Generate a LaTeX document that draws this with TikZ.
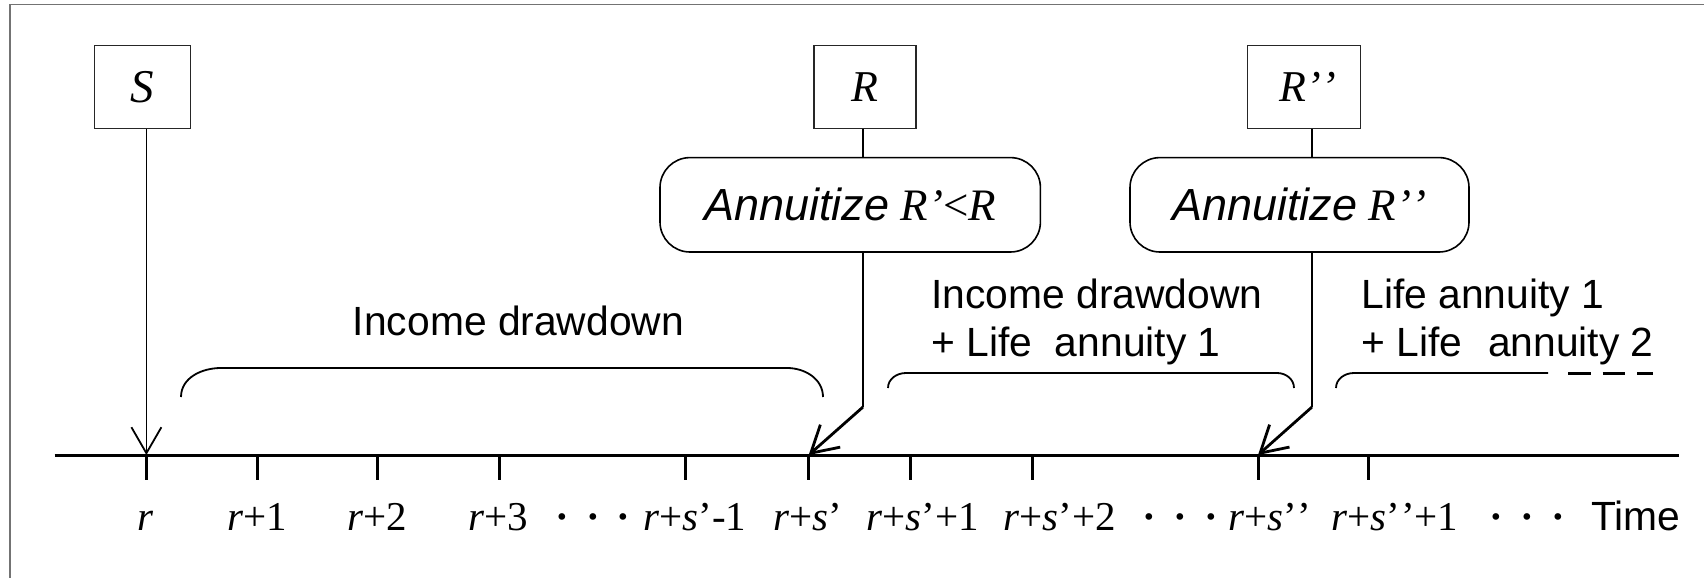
\documentclass[tikz,border=0pt]{standalone}
\usepackage{fontspec}
\setmainfont{Liberation Serif}
\newfontfamily\sansfont{Liberation Sans}
\usetikzlibrary{arrows.meta}

% two separate closing quotes (no ” ligature)
\newcommand{\dq}{’\kern0.3pt’}
% spaced centred dots between time labels
\newcommand{\gapdots}{{\bfseries ·}\hspace{8.6pt}{\bfseries ·}\hspace{8.6pt}{\bfseries ·}}

\begin{document}
\begin{tikzpicture}[x=0.5pt,y=-0.5pt,
  valbox/.style={draw=black!85, line width=0.7pt, minimum height=41.3pt,
    inner sep=0pt, font=\fontsize{22}{26}\selectfont\itshape},
  decision/.style={draw, line width=0.8pt, rounded corners=15pt,
    minimum height=47.2pt, inner sep=0pt, font=\fontsize{22.5}{27}\selectfont},
  tlabel/.style={anchor=base, inner sep=0pt, font=\fontsize{20.5}{24}\selectfont},
  caption/.style={anchor=base west, inner sep=0pt, font=\sansfont\fontsize{20.4}{24}\selectfont},
  axisline/.style={line width=1.5pt},
  tickmark/.style={line width=1.5pt},
  feed/.style={line width=0.9pt},
  barb/.style={-{Straight Barb[length=13pt,width=15pt]}},
  jump/.style={line width=1.4pt, barb},
  spanline/.style={line width=0.9pt},
  frameline/.style={line width=0.8pt, draw=black!55},
]
\useasboundingbox (0,0) rectangle (1704,578);

% outer frame (left and top edges)
\draw[frameline] (9.7,578) -- (9.7,4.7) -- (1704,4.7);

% time axis and tick positions
\coordinate (axL) at (54.5,455);
\coordinate (axR) at (1679,455);
\coordinate (t0) at (146.4,455);
\coordinate (t1) at (257.6,455);
\coordinate (t2) at (377,455);
\coordinate (t3) at (499,455);
\coordinate (t4) at (685,455);
\coordinate (t5) at (808.7,455);
\coordinate (t6) at (910.5,455);
\coordinate (t7) at (1032.5,455);
\coordinate (t8) at (1258,455);
\coordinate (t9) at (1368,455);
\draw[axisline] (axL) -- (axR);
\foreach \t in {t0,t1,t2,t3,t4,t5,t6,t7,t8,t9}
  \draw[tickmark] (\t) -- ++(0,25);

% wealth boxes
\node[valbox, minimum width=48pt, font=\fontsize{23.5}{27}\selectfont\itshape] (S) at (142.3,87) {S};
\node[valbox, minimum width=51pt] (R) at (865,87) {R};
\node[valbox, minimum width=56.5pt] (R2) at (1304,87) {\hspace{4pt}R\dq};

% annuitization decisions
\node[decision, minimum width=190.2pt] (A1) at (850.2,204.8)
  {{\sansfont\itshape Annuitize} \textit{R’}<\textit{R}};
\node[decision, minimum width=169.5pt] (A2) at (1299.5,204.8)
  {{\sansfont\itshape Annuitize} \textit{R\dq}};

% connectors
\draw[feed, barb] (S.south -| t0) -- (t0);
\coordinate (k1) at (863,407);
\coordinate (k2) at (1312,407);
\draw[feed] (R.south -| k1) -- (A1.north -| k1);
\draw[feed] (A1.south -| k1) -- (k1);
\draw[jump] (k1) -- (t5);
\draw[feed] (R2.south -| k2) -- (A2.north -| k2);
\draw[feed] (A2.south -| k2) -- (k2);
\draw[jump] (k2) -- (t8);

% phase brackets
\draw[spanline] (181,397) to[out=90,in=180] (221,368) -- (787,368)
  to[out=0,in=90] (823,397);
\draw[spanline] (888,388) to[out=90,in=180] (906,373) -- (1277,373)
  to[out=0,in=90] (1294,388);
\draw[spanline] (1336,388) to[out=90,in=180] (1354,373) -- (1548,373);
\draw[line width=1.5pt, dash pattern=on 11.25pt off 6pt] (1568,373) -- (1653,373);

% phase captions
\node[caption, anchor=base] (p1) at (518.5,335) {Income drawdown};
\node[caption] (p2a) at (931,308) {Income drawdown};
\node[caption] (p2b) at (931,356) {+ Life\ \ annuity 1};
\node[caption] (p3a) at (1361,308) {Life annuity 1};
\node[caption] (p3b) at (1361,356) {+ Life\ \ \hspace{1.5pt}annuity 2};

% time labels
\node[tlabel] (l0) at (146,530.5) {\textit{r}};
\node[tlabel] (l1) at (257,530.5) {\textit{r}+1};
\node[tlabel] (l2) at (377,530.5) {\textit{r}+2};
\node[tlabel] (l3) at (498,530.5) {\textit{r}+3};
\node[tlabel] (d1) at (593,530.5) {\gapdots};
\node[tlabel] (l4) at (695,530.5) {\textit{r}+\textit{s}’-1};
\node[tlabel] (l5) at (808,530.5) {\textit{r}+\textit{s}’};
\node[tlabel] (l6) at (923,530.5) {\textit{r}+\textit{s}’+1};
\node[tlabel] (l7) at (1060,530.5) {\textit{r}+\textit{s}’+2};
\node[tlabel] (d2) at (1180,530.5) {\gapdots};
\node[tlabel] (l8) at (1270,530.5) {\textit{r}+\textit{s}\dq};
\node[tlabel] (l9) at (1395,530.5) {\textit{r}+\textit{s}\dq+1};
\node[tlabel] (d3) at (1527,530.5) {\gapdots};
\node[caption] (time) at (1591,530.5) {Time};
\end{tikzpicture}
\end{document}
